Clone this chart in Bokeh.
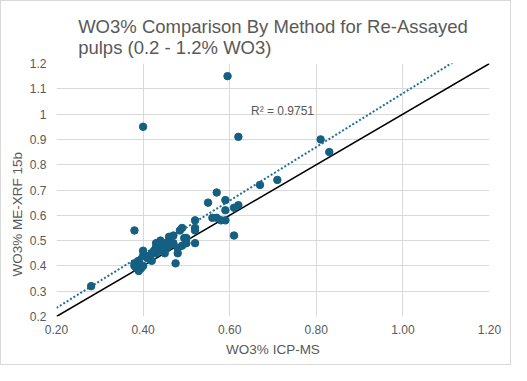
from bokeh.plotting import figure
from bokeh.models import Range1d, Label, Title, NumeralTickFormatter, FixedTicker, ColumnDataSource
from bokeh.embed import file_html
from bokeh.resources import INLINE

# WO3% ICP-MS (x) vs WO3% ME-XRF 15b (y)
icp_ms = [0.28, 0.38, 0.40, 0.595, 0.62, 0.81, 0.83, 0.71, 0.67, 0.57,
          0.55, 0.59, 0.62, 0.61, 0.59, 0.56, 0.57, 0.58, 0.59, 0.61,
          0.52, 0.52, 0.52, 0.52, 0.49, 0.485, 0.50, 0.495, 0.47, 0.46,
          0.44, 0.445, 0.43, 0.455, 0.43, 0.415, 0.48, 0.49, 0.50, 0.48,
          0.475, 0.40, 0.39, 0.385, 0.40, 0.40, 0.39, 0.42, 0.425, 0.45,
          0.38, 0.39, 0.41, 0.44, 0.46, 0.47, 0.45, 0.38, 0.395, 0.42,
          0.43, 0.46]
me_xrf = [0.32, 0.54, 0.95, 1.15, 0.91, 0.90, 0.85, 0.74, 0.72, 0.69,
          0.65, 0.66, 0.64, 0.63, 0.62, 0.59, 0.59, 0.58, 0.58, 0.52,
          0.58, 0.55, 0.54, 0.49, 0.55, 0.54, 0.51, 0.51, 0.52, 0.515,
          0.50, 0.48, 0.475, 0.47, 0.45, 0.44, 0.47, 0.48, 0.49, 0.45,
          0.41, 0.44, 0.41, 0.39, 0.40, 0.46, 0.38, 0.42, 0.46, 0.45,
          0.40, 0.42, 0.43, 0.46, 0.48, 0.49, 0.49, 0.41, 0.39, 0.45,
          0.49, 0.50]

# trendline (linear, as shown) and 1:1 reference line
trend_slope = 1.06
trend_intercept = 0.022
r_squared_text = "R² = 0.9751"
line_x = [0.2, 1.2]

x_ticks = [0.2, 0.4, 0.6, 0.8, 1.0, 1.2]
y_ticks = [0.2, 0.3, 0.4, 0.5, 0.6, 0.7, 0.8, 0.9, 1.0, 1.1, 1.2]

title_text = "WO3% Comparison By Method for Re-Assayed\npulps (0.2 - 1.2% WO3)"
x_title = "WO3% ICP-MS"
y_title = "WO3% ME-XRF 15b"

FONT = "Liberation Sans"
GREY = "#595959"
GRID = "#d9d9d9"
DOT = "#156082"

p = figure(width=511, height=365, output_backend="svg", toolbar_location=None,
           x_range=Range1d(0.2, 1.2), y_range=Range1d(0.2, 1.2),
           min_border_left=55, min_border_right=23, min_border_top=62, min_border_bottom=50,
           title=title_text)
p.styles = {"border": "1px solid #d9d9d9"}
p.outline_line_color = None
p.background_fill_color = "white"
p.border_fill_color = "white"

p.title.align = "center"
p.title.text_font = FONT
p.title.text_font_size = "18.5px"
p.title.text_font_style = "normal"
p.title.text_color = GREY
p.title.offset = 0
p.title.standoff = 12

# axis titles as extra titles so they can be offset like the original
p.add_layout(Title(text=x_title, align="center", offset=7, standoff=6,
                   text_font=FONT, text_font_size="13.5px", text_font_style="normal",
                   text_color=GREY), "below")
p.add_layout(Title(text=y_title, align="left", offset=40, standoff=3,
                   text_font=FONT, text_font_size="13.5px", text_font_style="normal",
                   text_color=GREY), "left")

# 1:1 line
p.line(line_x, line_x, line_color="black", line_width=1.5)
# trendline
trend_y = [trend_slope * v + trend_intercept for v in line_x]
p.line(line_x, trend_y, line_color="#1f6f96", line_width=2, line_dash="2 2")

src = ColumnDataSource(dict(x=icp_ms, y=me_xrf))
p.scatter("x", "y", source=src, size=7.5, fill_color=DOT, line_color=DOT)

p.add_layout(Label(x=0.722, y=1.014, text=r_squared_text, text_font=FONT,
                   text_font_size="12px", text_color=GREY,
                   text_align="center", text_baseline="middle"))

for ax in (p.xaxis[0], p.yaxis[0]):
    ax.axis_line_color = None
    ax.major_tick_line_color = None
    ax.minor_tick_line_color = None
    ax.major_tick_out = 0
    ax.major_tick_in = 0
    ax.minor_tick_out = 0
    ax.minor_tick_in = 0
    ax.major_label_text_font = FONT
    ax.major_label_text_font_size = "12px"
    ax.major_label_text_color = GREY

p.xaxis.ticker = FixedTicker(ticks=x_ticks)
p.yaxis.ticker = FixedTicker(ticks=y_ticks)
p.xaxis.formatter = NumeralTickFormatter(format="0.00")
p.yaxis.formatter = NumeralTickFormatter(format="0.[0]")
p.xaxis.major_label_standoff = 8
p.yaxis.major_label_standoff = 10

p.xgrid.ticker = FixedTicker(ticks=x_ticks)
p.ygrid.ticker = FixedTicker(ticks=y_ticks)
p.grid.grid_line_color = GRID
p.grid.grid_line_width = 1

open("out.html", "w").write(file_html(p, INLINE))
